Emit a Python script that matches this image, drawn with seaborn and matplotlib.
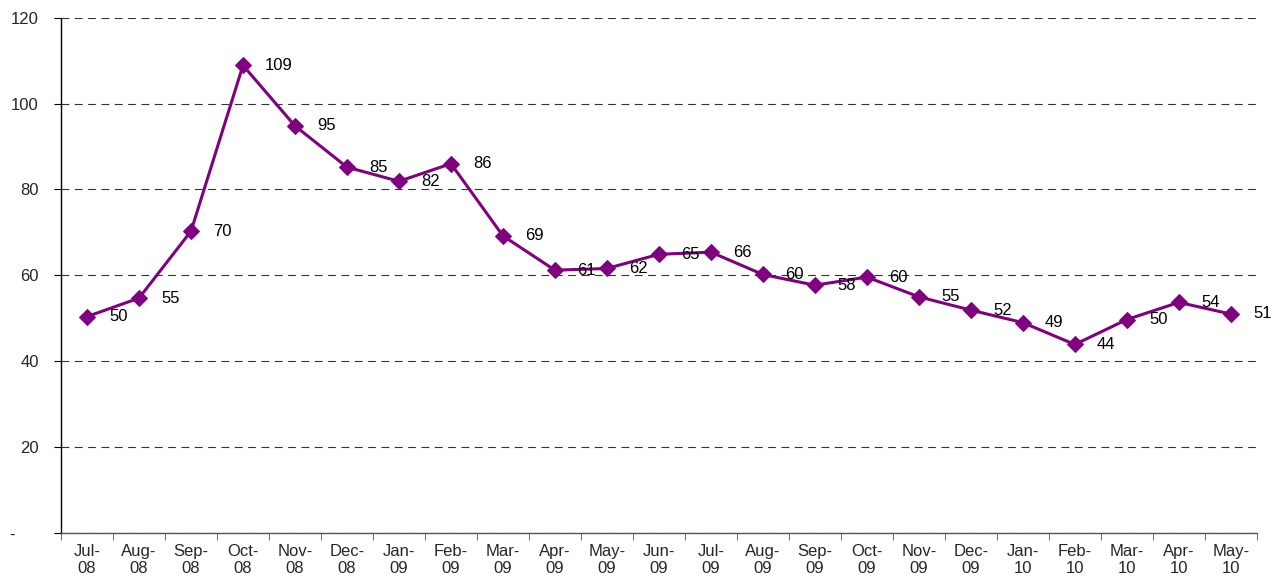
import pandas as pd
import matplotlib.pyplot as plt
import seaborn as sns

# Monthly values
months = ["Jul-08", "Aug-08", "Sep-08", "Oct-08", "Nov-08", "Dec-08", "Jan-09", "Feb-09",
          "Mar-09", "Apr-09", "May-09", "Jun-09", "Jul-09", "Aug-09", "Sep-09", "Oct-09",
          "Nov-09", "Dec-09", "Jan-10", "Feb-10", "Mar-10", "Apr-10", "May-10"]
values = [50.4, 54.7, 70.3, 108.9, 94.8, 85.2, 81.9, 86.0,
          69.2, 61.2, 61.6, 64.9, 65.4, 60.2, 57.7, 59.6,
          55.0, 51.9, 49.0, 43.9, 49.7, 53.7, 51.0]
labels = ["50", "55", "70", "109", "95", "85", "82", "86",
          "69", "61", "62", "65", "66", "60", "58", "60",
          "55", "52", "49", "44", "50", "54", "51"]
yticks = [0, 20, 40, 60, 80, 100, 120]
ytick_labels = ["-     ", "20", "40", "60", "80", "100", "120"]

df = pd.DataFrame({"month": months, "value": values})

sns.set_style("white")
plt.rcParams['font.family'] = ['Liberation Sans', 'DejaVu Sans']

fig = plt.figure(figsize=(12.72, 5.77), dpi=100)
ax = fig.add_axes([0.048, 0.0763, 0.940, 0.893])

purple = "#800080"
sns.lineplot(data=df, x="month", y="value", sort=False, color=purple, linewidth=2.2,
             marker="D", markersize=8.5, markeredgecolor=purple, ax=ax)

# value labels to the right of each point
for i, (v, lab) in enumerate(zip(values, labels)):
    ax.annotate(lab, (i, v), xytext=(16, 0), textcoords="offset points",
                ha="left", va="center", fontsize=12, color="black")

ax.set_xlim(-0.5, len(months) - 0.5)
ax.set_ylim(0, 120)
ax.set_yticks(yticks)
ax.set_yticklabels(ytick_labels, fontsize=12)
ax.set_xticks(range(len(months)))
ax.set_xticklabels([m.replace("-", "-\n") for m in months], fontsize=12, linespacing=1.2)
ax.set_xticks([i - 0.5 for i in range(len(months) + 1)], minor=True)
ax.tick_params(axis="x", which="major", length=0, pad=8)
ax.tick_params(axis="x", which="minor", length=5, direction="out", color="#555555", bottom=True)
ax.tick_params(axis="y", length=5, direction="out", color="black", left=True, pad=11)

ax.yaxis.grid(True, linestyle=(0, (7, 5)), color="#333333", linewidth=0.8)
ax.set_axisbelow(True)
ax.set_xlabel("")
ax.set_ylabel("")

for s in ["top", "right"]:
    ax.spines[s].set_visible(False)
ax.spines["left"].set_color("black")
ax.spines["left"].set_linewidth(1.0)
ax.spines["bottom"].set_color("#555555")
ax.spines["bottom"].set_linewidth(1.0)

plt.savefig("out.png", dpi=100)
